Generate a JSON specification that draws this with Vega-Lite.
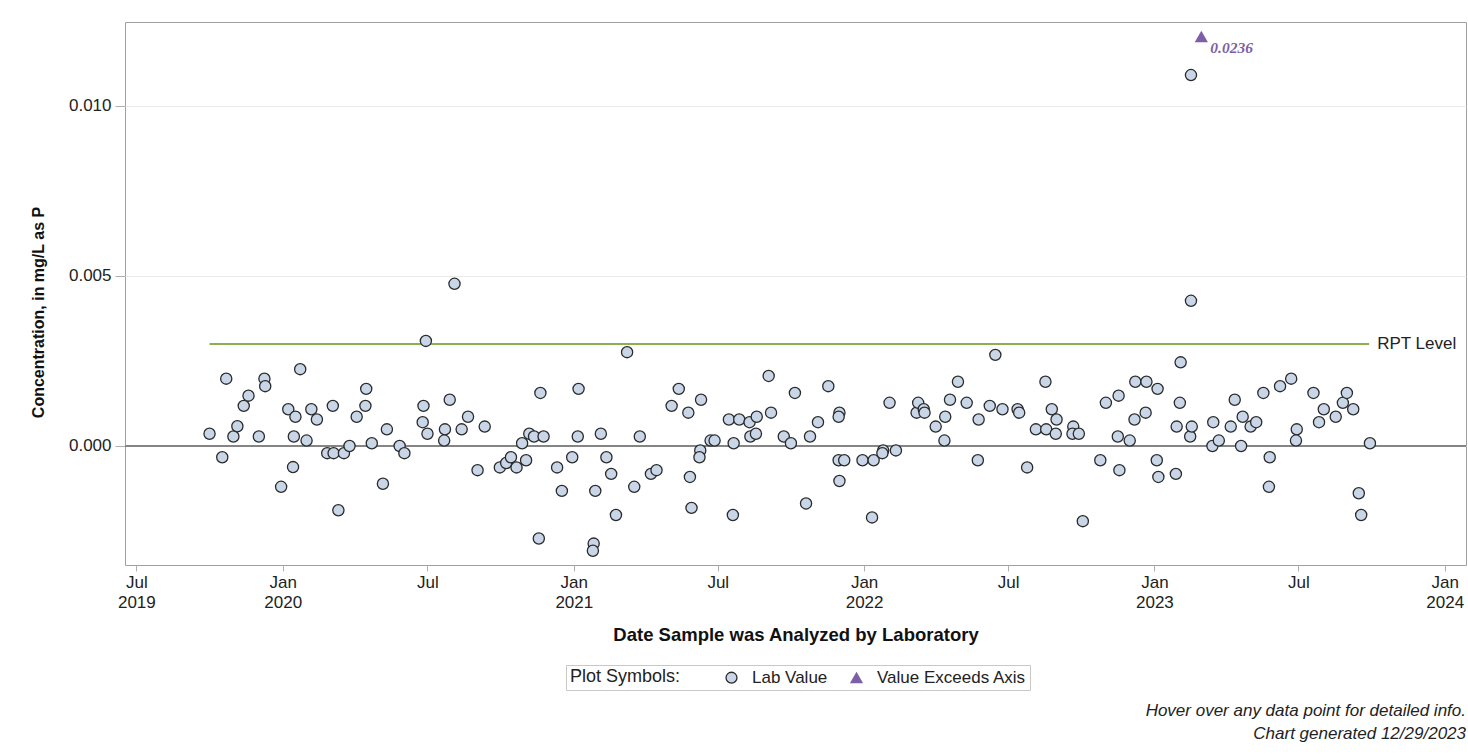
{
  "$schema": "https://vega.github.io/schema/vega-lite/v6.json",
  "autosize": "none",
  "width": 1341,
  "height": 543,
  "padding": {"left": 125, "top": 22, "right": 2, "bottom": 189},
  "background": "white",
  "title": {
    "text": ["Hover over any data point for detailed info.", "Chart generated 12/29/2023"],
    "orient": "bottom",
    "anchor": "end",
    "frame": "group",
    "offset": 12,
    "fontSize": 17,
    "fontStyle": "italic",
    "fontWeight": "normal",
    "color": "#222",
    "lineHeight": 23
  },
  "datasets": {
    "lab": [
      {"date": "2019-10-01", "value": 0.00036},
      {"date": "2019-10-17", "value": -0.00033},
      {"date": "2019-10-22", "value": 0.00198},
      {"date": "2019-10-31", "value": 0.00028},
      {"date": "2019-11-05", "value": 0.00058},
      {"date": "2019-11-13", "value": 0.00118},
      {"date": "2019-11-19", "value": 0.00148},
      {"date": "2019-12-02", "value": 0.00028},
      {"date": "2019-12-09", "value": 0.00198},
      {"date": "2019-12-10", "value": 0.00176},
      {"date": "2019-12-30", "value": -0.0012},
      {"date": "2020-01-08", "value": 0.00108},
      {"date": "2020-01-15", "value": 0.00028},
      {"date": "2020-01-14", "value": -0.00062},
      {"date": "2020-01-17", "value": 0.00086},
      {"date": "2020-01-23", "value": 0.00226},
      {"date": "2020-01-31", "value": 0.00016},
      {"date": "2020-02-06", "value": 0.00108},
      {"date": "2020-02-13", "value": 0.00078},
      {"date": "2020-02-26", "value": -0.00021},
      {"date": "2020-03-04", "value": 0.00118},
      {"date": "2020-03-05", "value": -0.00021},
      {"date": "2020-03-11", "value": -0.00189},
      {"date": "2020-03-18", "value": -0.00021},
      {"date": "2020-03-25", "value": 0.0},
      {"date": "2020-04-03", "value": 0.00086},
      {"date": "2020-04-15", "value": 0.00168},
      {"date": "2020-04-14", "value": 0.00118},
      {"date": "2020-04-22", "value": 0.00008},
      {"date": "2020-05-06", "value": -0.00111},
      {"date": "2020-05-11", "value": 0.00049},
      {"date": "2020-05-27", "value": 0.0},
      {"date": "2020-06-02", "value": -0.00021},
      {"date": "2020-06-25", "value": 0.0007},
      {"date": "2020-06-26", "value": 0.00118},
      {"date": "2020-06-29", "value": 0.00309},
      {"date": "2020-07-01", "value": 0.00036},
      {"date": "2020-07-23", "value": 0.00049},
      {"date": "2020-07-22", "value": 0.00016},
      {"date": "2020-07-29", "value": 0.00136},
      {"date": "2020-08-04", "value": 0.00477},
      {"date": "2020-08-13", "value": 0.00049},
      {"date": "2020-08-21", "value": 0.00086},
      {"date": "2020-09-02", "value": -0.00071},
      {"date": "2020-09-11", "value": 0.00057},
      {"date": "2020-09-30", "value": -0.00063},
      {"date": "2020-10-08", "value": -0.0005},
      {"date": "2020-10-14", "value": -0.00033},
      {"date": "2020-10-21", "value": -0.00063},
      {"date": "2020-10-28", "value": 0.00008},
      {"date": "2020-11-02", "value": -0.00042},
      {"date": "2020-11-06", "value": 0.00036},
      {"date": "2020-11-12", "value": 0.00028},
      {"date": "2020-11-18", "value": -0.00272},
      {"date": "2020-11-20", "value": 0.00156},
      {"date": "2020-11-24", "value": 0.00028},
      {"date": "2020-12-11", "value": -0.00063},
      {"date": "2020-12-17", "value": -0.00132},
      {"date": "2020-12-30", "value": -0.00033},
      {"date": "2021-01-07", "value": 0.00168},
      {"date": "2021-01-06", "value": 0.00028},
      {"date": "2021-01-26", "value": -0.00287},
      {"date": "2021-01-25", "value": -0.00308},
      {"date": "2021-01-28", "value": -0.00132},
      {"date": "2021-02-04", "value": 0.00036},
      {"date": "2021-02-11", "value": -0.00033},
      {"date": "2021-02-17", "value": -0.00082},
      {"date": "2021-02-23", "value": -0.00203},
      {"date": "2021-03-09", "value": 0.00276},
      {"date": "2021-03-18", "value": -0.0012},
      {"date": "2021-03-25", "value": 0.00028},
      {"date": "2021-04-08", "value": -0.00082},
      {"date": "2021-04-15", "value": -0.00071},
      {"date": "2021-05-04", "value": 0.00118},
      {"date": "2021-05-13", "value": 0.00168},
      {"date": "2021-05-25", "value": 0.00098},
      {"date": "2021-05-27", "value": -0.00091},
      {"date": "2021-05-29", "value": -0.00182},
      {"date": "2021-06-09", "value": -0.00013},
      {"date": "2021-06-08", "value": -0.00033},
      {"date": "2021-06-10", "value": 0.00136},
      {"date": "2021-06-22", "value": 0.00016},
      {"date": "2021-06-27", "value": 0.00016},
      {"date": "2021-07-15", "value": 0.00078},
      {"date": "2021-07-21", "value": 0.00008},
      {"date": "2021-07-20", "value": -0.00203},
      {"date": "2021-07-28", "value": 0.00078},
      {"date": "2021-08-10", "value": 0.0007},
      {"date": "2021-08-11", "value": 0.00028},
      {"date": "2021-08-19", "value": 0.00086},
      {"date": "2021-08-18", "value": 0.00036},
      {"date": "2021-09-03", "value": 0.00206},
      {"date": "2021-09-06", "value": 0.00098},
      {"date": "2021-09-22", "value": 0.00028},
      {"date": "2021-10-01", "value": 0.00008},
      {"date": "2021-10-06", "value": 0.00156},
      {"date": "2021-10-20", "value": -0.00169},
      {"date": "2021-10-25", "value": 0.00028},
      {"date": "2021-11-04", "value": 0.0007},
      {"date": "2021-11-17", "value": 0.00176},
      {"date": "2021-11-30", "value": -0.00042},
      {"date": "2021-12-01", "value": 0.00098},
      {"date": "2021-11-30", "value": 0.00086},
      {"date": "2021-12-01", "value": -0.00103},
      {"date": "2021-12-07", "value": -0.00042},
      {"date": "2021-12-30", "value": -0.00042},
      {"date": "2022-01-11", "value": -0.0021},
      {"date": "2022-01-13", "value": -0.00042},
      {"date": "2022-01-25", "value": -0.00013},
      {"date": "2022-01-24", "value": -0.00021},
      {"date": "2022-02-02", "value": 0.00127},
      {"date": "2022-02-10", "value": -0.00013},
      {"date": "2022-03-08", "value": 0.00098},
      {"date": "2022-03-10", "value": 0.00127},
      {"date": "2022-03-17", "value": 0.00108},
      {"date": "2022-03-18", "value": 0.00098},
      {"date": "2022-04-01", "value": 0.00057},
      {"date": "2022-04-13", "value": 0.00086},
      {"date": "2022-04-12", "value": 0.00016},
      {"date": "2022-04-19", "value": 0.00136},
      {"date": "2022-04-29", "value": 0.00189},
      {"date": "2022-05-10", "value": 0.00127},
      {"date": "2022-05-25", "value": 0.00078},
      {"date": "2022-05-24", "value": -0.00042},
      {"date": "2022-06-08", "value": 0.00118},
      {"date": "2022-06-15", "value": 0.00268},
      {"date": "2022-06-24", "value": 0.00108},
      {"date": "2022-07-13", "value": 0.00108},
      {"date": "2022-07-15", "value": 0.00098},
      {"date": "2022-07-25", "value": -0.00063},
      {"date": "2022-08-05", "value": 0.00049},
      {"date": "2022-08-17", "value": 0.00189},
      {"date": "2022-08-18", "value": 0.00049},
      {"date": "2022-08-25", "value": 0.00108},
      {"date": "2022-08-30", "value": 0.00036},
      {"date": "2022-08-31", "value": 0.00078},
      {"date": "2022-09-21", "value": 0.00057},
      {"date": "2022-09-20", "value": 0.00036},
      {"date": "2022-09-28", "value": 0.00036},
      {"date": "2022-10-03", "value": -0.00221},
      {"date": "2022-10-25", "value": -0.00042},
      {"date": "2022-11-01", "value": 0.00127},
      {"date": "2022-11-17", "value": 0.00148},
      {"date": "2022-11-16", "value": 0.00028},
      {"date": "2022-11-18", "value": -0.00071},
      {"date": "2022-12-01", "value": 0.00016},
      {"date": "2022-12-08", "value": 0.00189},
      {"date": "2022-12-07", "value": 0.00078},
      {"date": "2022-12-22", "value": 0.00189},
      {"date": "2022-12-21", "value": 0.00098},
      {"date": "2023-01-05", "value": 0.00168},
      {"date": "2023-01-04", "value": -0.00042},
      {"date": "2023-01-06", "value": -0.00091},
      {"date": "2023-01-29", "value": 0.00057},
      {"date": "2023-01-28", "value": -0.00082},
      {"date": "2023-02-03", "value": 0.00246},
      {"date": "2023-02-02", "value": 0.00127},
      {"date": "2023-02-16", "value": 0.00427},
      {"date": "2023-02-15", "value": 0.00028},
      {"date": "2023-02-17", "value": 0.00057},
      {"date": "2023-02-16", "value": 0.01091},
      {"date": "2023-03-16", "value": 0.0007},
      {"date": "2023-03-15", "value": 0.0},
      {"date": "2023-03-23", "value": 0.00016},
      {"date": "2023-04-07", "value": 0.00057},
      {"date": "2023-04-12", "value": 0.00136},
      {"date": "2023-04-20", "value": 0.0},
      {"date": "2023-04-22", "value": 0.00086},
      {"date": "2023-05-02", "value": 0.00057},
      {"date": "2023-05-09", "value": 0.0007},
      {"date": "2023-05-18", "value": 0.00156},
      {"date": "2023-05-26", "value": -0.00033},
      {"date": "2023-05-25", "value": -0.0012},
      {"date": "2023-06-08", "value": 0.00176},
      {"date": "2023-06-22", "value": 0.00198},
      {"date": "2023-06-29", "value": 0.00049},
      {"date": "2023-06-28", "value": 0.00016},
      {"date": "2023-07-20", "value": 0.00156},
      {"date": "2023-07-27", "value": 0.0007},
      {"date": "2023-08-02", "value": 0.00108},
      {"date": "2023-08-17", "value": 0.00086},
      {"date": "2023-08-26", "value": 0.00127},
      {"date": "2023-08-31", "value": 0.00156},
      {"date": "2023-09-08", "value": 0.00108},
      {"date": "2023-09-15", "value": -0.00139},
      {"date": "2023-09-18", "value": -0.00203},
      {"date": "2023-09-29", "value": 0.00008}
    ],
    "over": [
      {"date": "2023-03-01", "value": 0.0236}
    ],
    "rpt": [
      {"start": "2019-10-01", "end": "2023-09-28", "level": 0.003, "label": "RPT Level"}
    ]
  },
  "layer": [
    {
      "data": {"values": [{"zero": 0}]},
      "mark": {"type": "rule", "color": "#858585", "strokeWidth": 2},
      "encoding": {
        "y": {"field": "zero", "type": "quantitative"}
      }
    },
    {
      "data": {"name": "rpt"},
      "mark": {"type": "rule", "color": "#8db04e", "strokeWidth": 2},
      "encoding": {
        "x": {"field": "start", "type": "temporal"},
        "x2": {"field": "end"},
        "y": {"field": "level", "type": "quantitative"}
      }
    },
    {
      "data": {"name": "rpt"},
      "mark": {"type": "text", "align": "left", "baseline": "middle", "dx": 8, "fontSize": 17, "color": "#222"},
      "encoding": {
        "x": {"field": "end", "type": "temporal"},
        "y": {"field": "level", "type": "quantitative"},
        "text": {"field": "label"}
      }
    },
    {
      "data": {"name": "lab"},
      "mark": {"type": "point", "filled": true, "size": 125, "strokeWidth": 1.3, "opacity": 1},
      "encoding": {
        "x": {
          "field": "date",
          "type": "temporal",
          "scale": {
            "type": "utc",
            "domain": [
              {"year": 2019, "month": 6, "date": 16, "hours": 17, "utc": true},
              {"year": 2024, "month": 1, "date": 27, "hours": 19, "utc": true}
            ]
          },
          "axis": {
            "title": "Date Sample was Analyzed by Laboratory",
            "values": [
              {"year": 2019, "month": 7, "date": 1, "utc": true},
              {"year": 2020, "month": 1, "date": 1, "utc": true},
              {"year": 2020, "month": 7, "date": 1, "utc": true},
              {"year": 2021, "month": 1, "date": 1, "utc": true},
              {"year": 2021, "month": 7, "date": 1, "utc": true},
              {"year": 2022, "month": 1, "date": 1, "utc": true},
              {"year": 2022, "month": 7, "date": 1, "utc": true},
              {"year": 2023, "month": 1, "date": 1, "utc": true},
              {"year": 2023, "month": 7, "date": 1, "utc": true},
              {"year": 2024, "month": 1, "date": 1, "utc": true}
            ],
            "labelExpr": "[utcFormat(datum.value, '%b'), (utcmonth(datum.value) == 0 || utcyear(datum.value) == 2019) ? utcFormat(datum.value, '%Y') : '']",
            "grid": false,
            "domain": false,
            "tickColor": "#b0b0b0",
            "tickSize": 6,
            "labelPadding": 3,
            "labelFontSize": 17,
            "labelLineHeight": 20,
            "labelColor": "#222",
            "labelFlush": false,
            "labelOverlap": false,
            "titleFontSize": 18.5,
            "titleFontWeight": "bold",
            "titleColor": "#111",
            "titlePadding": 15
          }
        },
        "y": {
          "field": "value",
          "type": "quantitative",
          "scale": {"domain": [-0.0035, 0.01247], "nice": false, "zero": false, "clamp": true},
          "axis": {
            "title": "Concentration, in mg/L as P",
            "titleY": 290,
            "values": [0, 0.005, 0.01],
            "format": ".3f",
            "grid": true,
            "gridColor": "#ebebeb",
            "domain": false,
            "tickColor": "#b0b0b0",
            "tickSize": 10,
            "labelPadding": 4,
            "labelFontSize": 17,
            "labelColor": "#222",
            "titleFontSize": 16,
            "titleFontWeight": "bold",
            "titleColor": "#111",
            "titlePadding": 22
          }
        },
        "fill": {
          "datum": "Lab Value",
          "type": "nominal",
          "scale": {"domain": ["Lab Value", "Value Exceeds Axis"], "range": ["#c8d6e8", "#7d5fa9"]},
          "legend": {
            "title": "Plot Symbols:",
            "orient": "none",
            "legendX": 441,
            "legendY": 643,
            "direction": "horizontal",
            "titleOrient": "left"
          }
        },
        "stroke": {
          "datum": "Lab Value",
          "type": "nominal",
          "scale": {"domain": ["Lab Value", "Value Exceeds Axis"], "range": ["#2a2a2a", "#7d5fa9"]},
          "legend": {"title": "Plot Symbols:"}
        },
        "shape": {
          "datum": "Lab Value",
          "type": "nominal",
          "scale": {"domain": ["Lab Value", "Value Exceeds Axis"], "range": ["circle", "triangle-up"]},
          "legend": {"title": "Plot Symbols:"}
        }
      }
    },
    {
      "data": {"name": "over"},
      "mark": {"type": "point", "filled": true, "size": 175, "strokeWidth": 0, "opacity": 1, "yOffset": 14.5},
      "encoding": {
        "x": {"field": "date", "type": "temporal"},
        "y": {"field": "value", "type": "quantitative"},
        "fill": {"datum": "Value Exceeds Axis", "type": "nominal"},
        "stroke": {"datum": "Value Exceeds Axis", "type": "nominal"},
        "shape": {"datum": "Value Exceeds Axis", "type": "nominal"}
      }
    },
    {
      "data": {"name": "over"},
      "mark": {
        "type": "text",
        "align": "left",
        "baseline": "middle",
        "dx": 9,
        "dy": 26,
        "font": "Liberation Serif",
        "fontSize": 15.5,
        "fontWeight": "bold",
        "fontStyle": "italic",
        "color": "#7d5fa9"
      },
      "encoding": {
        "x": {"field": "date", "type": "temporal"},
        "y": {"field": "value", "type": "quantitative"},
        "text": {"field": "value", "type": "quantitative", "format": ".4f"}
      }
    }
  ],
  "config": {
    "font": "Liberation Sans",
    "view": {"stroke": "#a0a0a0", "strokeWidth": 1},
    "legend": {
      "strokeColor": "#c8c8c8",
      "padding": 4,
      "labelFontSize": 17,
      "labelColor": "#222",
      "titleFontSize": 18,
      "titleFontWeight": "normal",
      "titleColor": "#222",
      "titlePadding": 42,
      "symbolSize": 120,
      "symbolStrokeWidth": 1.3,
      "columnPadding": 20,
      "labelOffset": 12
    }
  }
}
